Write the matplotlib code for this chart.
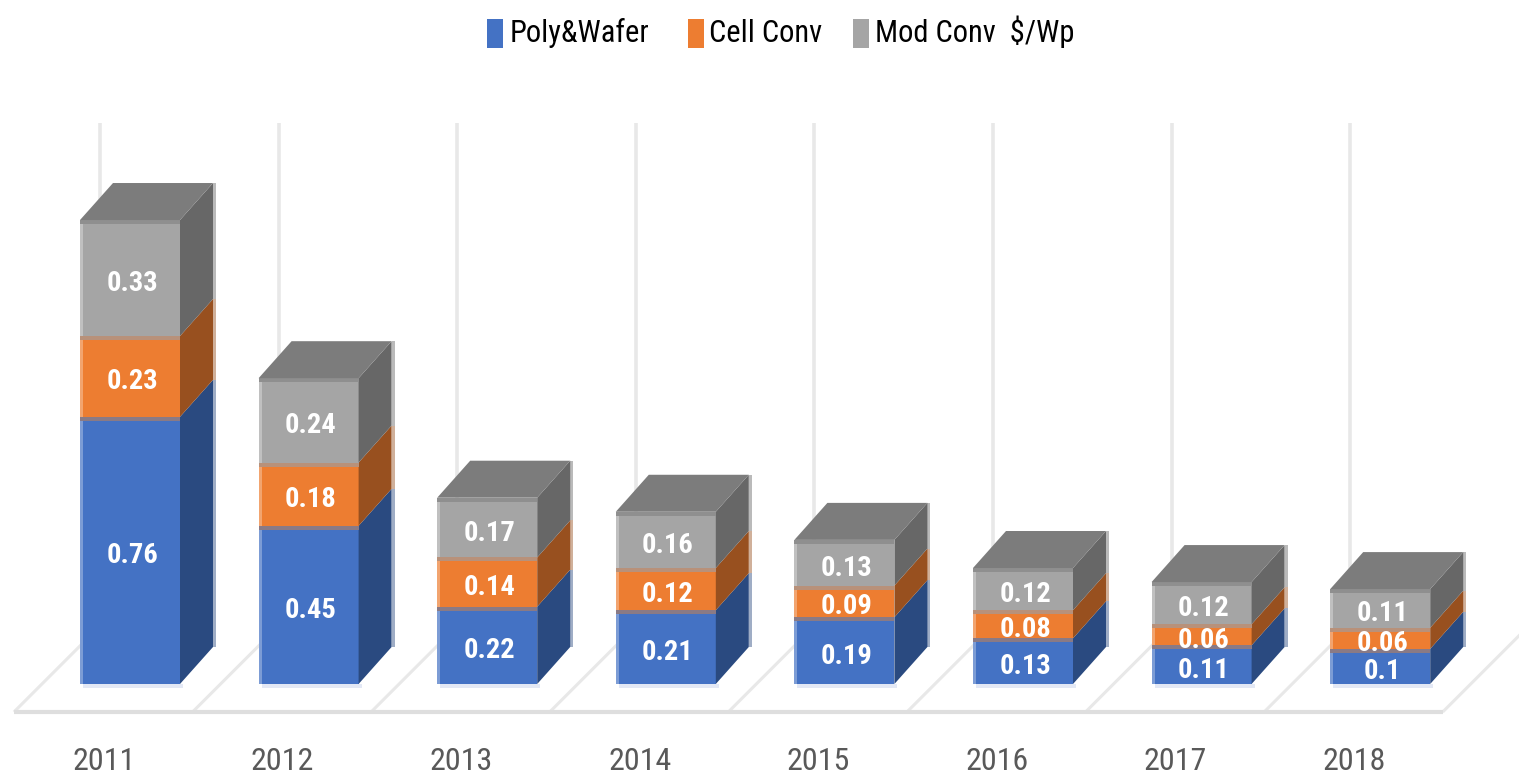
import matplotlib
matplotlib.use('Agg')
import matplotlib.pyplot as plt
import matplotlib.patches as patches

years = ['2011', '2012', '2013', '2014', '2015', '2016', '2017', '2018']
poly_wafer = [0.76, 0.45, 0.22, 0.21, 0.19, 0.13, 0.11, 0.10]
cell_conv = [0.23, 0.18, 0.14, 0.12, 0.09, 0.08, 0.06, 0.06]
mod_conv = [0.33, 0.24, 0.17, 0.16, 0.13, 0.12, 0.12, 0.11]
legend_names = ['Poly&Wafer', 'Cell Conv', 'Mod Conv  $/Wp']

FONT = ['Roboto Condensed', 'DejaVu Sans']
W, H = 1519, 773

# one category = 178.6 px, one dollar = 351.5 px
PX_X = 178.6
PX_Y = 351.5
BAR_W = 100 / PX_X
DEPTH_X = 33 / PX_X
DEPTH_Y = 37 / PX_Y

fig = plt.figure(figsize=(W / 100, H / 100), dpi=100)
ax = fig.add_axes([0, 0, 1, 1])
ax.set_xlim(-130 / PX_X, (W - 130) / PX_X)
ax.set_ylim((684 - H) / PX_Y, 684 / PX_Y)
ax.axis('off')

# floor and back wall
grid_color = '#e8e8e8'
front_y = -28 / PX_Y
floor_dx = 86 / PX_X
floor_dy = 86 / PX_Y
wall_top = 561 / PX_Y
n = len(years)
for i in range(n + 1):
    x0 = i - 0.65
    ax.plot([x0, x0 + floor_dx], [front_y, front_y + floor_dy],
            color=grid_color, lw=2.2, zorder=1, solid_capstyle='butt')
    ax.plot([x0 + floor_dx, x0 + floor_dx], [front_y + floor_dy, wall_top],
            color=grid_color, lw=2.6, zorder=1, solid_capstyle='butt')
ax.plot([-0.65, n - 0.65], [front_y, front_y], color='#dedede', lw=3, zorder=2,
        solid_capstyle='butt')


def draw_box(i, bottom, height, color, side_color, band_color, z):
    left = i - BAR_W / 2
    right = i + BAR_W / 2
    top = bottom + height
    ax.bar(i, height, BAR_W, bottom=bottom, color=color, zorder=z)
    # pale left edge and the blended line along the top of each segment
    ax.add_patch(patches.Rectangle((left, bottom), 3 / PX_X, height, facecolor='white',
                                   alpha=0.3, edgecolor='none', zorder=z + 0.1))
    ax.add_patch(patches.Rectangle((left, top - 4 / PX_Y), BAR_W, 4 / PX_Y,
                                   facecolor=band_color, edgecolor='none', zorder=z + 0.2))
    side = [(right, bottom), (right + DEPTH_X, bottom + DEPTH_Y),
            (right + DEPTH_X, top + DEPTH_Y), (right, top)]
    ax.add_patch(patches.Polygon(side, facecolor=side_color, edgecolor='none', zorder=z))
    ax.add_patch(patches.Rectangle((right + DEPTH_X, bottom + DEPTH_Y), 3 / PX_X, height,
                                   facecolor=side_color, alpha=0.45, edgecolor='none', zorder=z))


for i in range(n):
    z = 3 + i
    b1 = poly_wafer[i]
    b2 = b1 + cell_conv[i]
    b3 = b2 + mod_conv[i]
    draw_box(i, 0, b1, '#4472c4', '#2a4a80', '#8a7a85', z)
    draw_box(i, b1, cell_conv[i], '#ed7d31', '#98501f', '#b8917a', z)
    draw_box(i, b2, mod_conv[i], '#a5a5a5', '#676767', '#8f8f8f', z)
    # top face
    left = i - BAR_W / 2
    right = i + BAR_W / 2
    ax.add_patch(patches.Polygon([(left, b3), (left + DEPTH_X, b3 + DEPTH_Y),
                                  (right + DEPTH_X, b3 + DEPTH_Y), (right, b3)],
                                 facecolor='#7c7c7c', edgecolor='none', zorder=z + 0.3))
    # pale shadow under the front face
    ax.add_patch(patches.Rectangle((left + 3 / PX_X, -4 / PX_Y), BAR_W, 4 / PX_Y,
                                   facecolor='#e3e8f5', edgecolor='none', zorder=z))

    bottoms = [0, b1, b2]
    values = [poly_wafer[i], cell_conv[i], mod_conv[i]]
    for bottom, v in zip(bottoms, values):
        ax.annotate(f'{v:g}', (i, bottom + v / 2), xytext=(1.5, -4), textcoords='offset points',
                    ha='center', va='center', color='white', fontsize=20.5, fontweight='bold',
                    family=FONT, zorder=20)
    ax.text(i - 26 / PX_X, -77 / PX_Y, years[i], ha='center', va='center', color='#595959',
            fontsize=23, family=FONT)

# legend
legend_colors = ['#4472c4', '#ed7d31', '#a5a5a5']
square_x = [487, 688, 853]
text_x = [510, 709, 875]
for name, c, sx, tx in zip(legend_names, legend_colors, square_x, text_x):
    fig.add_artist(patches.Rectangle((sx / W, 1 - 48 / H), 16 / W, 29 / H, facecolor=c,
                                     edgecolor='none', transform=fig.transFigure))
    fig.text(tx / W, 1 - 42 / H, name, ha='left', va='baseline', color='black',
             fontsize=22, family=FONT)

plt.savefig('out.png', dpi=100)
plt.close()
